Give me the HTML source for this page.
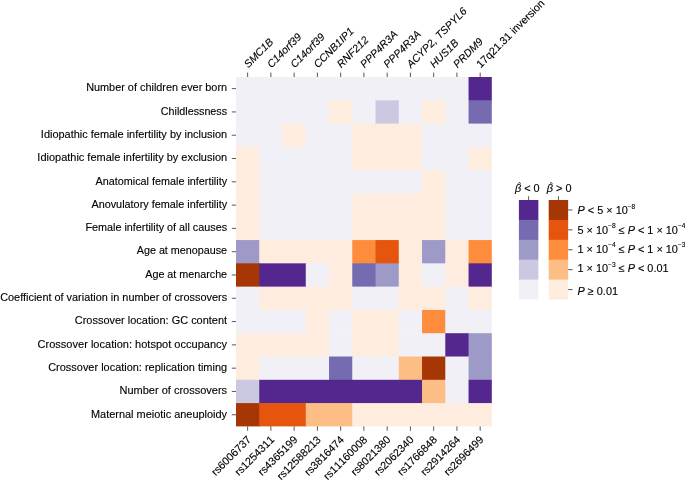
<!DOCTYPE html>
<html><head><meta charset="utf-8"><title>Heatmap</title>
<style>html,body{margin:0;padding:0;background:#fff}svg{display:block}text{font-family:"Liberation Sans",Arial,Helvetica,sans-serif;fill:#000;stroke:#000;stroke-width:0.12px}</style></head><body>
<svg width="685" height="480" viewBox="0 0 685 480">
<rect width="685" height="480" fill="#fff"/>
<g>
<rect x="236.00" y="77.00" width="233.25" height="23.99" fill="#f2f0f7"/>
<rect x="468.55" y="77.00" width="23.25" height="23.99" fill="#54278f"/>
<rect x="236.00" y="100.29" width="93.72" height="23.99" fill="#f2f0f7"/>
<rect x="329.02" y="100.29" width="23.95" height="23.99" fill="#feedde"/>
<rect x="352.27" y="100.29" width="23.95" height="23.99" fill="#f2f0f7"/>
<rect x="375.53" y="100.29" width="23.95" height="23.99" fill="#cbc9e2"/>
<rect x="398.78" y="100.29" width="23.95" height="23.99" fill="#f2f0f7"/>
<rect x="422.04" y="100.29" width="23.95" height="23.99" fill="#feedde"/>
<rect x="445.29" y="100.29" width="23.95" height="23.99" fill="#f2f0f7"/>
<rect x="468.55" y="100.29" width="23.25" height="23.99" fill="#756bb1"/>
<rect x="236.00" y="123.59" width="47.21" height="23.99" fill="#f2f0f7"/>
<rect x="282.51" y="123.59" width="23.95" height="23.99" fill="#feedde"/>
<rect x="305.76" y="123.59" width="47.21" height="23.99" fill="#f2f0f7"/>
<rect x="352.27" y="123.59" width="70.46" height="23.99" fill="#feedde"/>
<rect x="422.04" y="123.59" width="69.76" height="23.99" fill="#f2f0f7"/>
<rect x="236.00" y="146.88" width="23.95" height="23.99" fill="#feedde"/>
<rect x="259.25" y="146.88" width="93.72" height="23.99" fill="#f2f0f7"/>
<rect x="352.27" y="146.88" width="70.46" height="23.99" fill="#feedde"/>
<rect x="422.04" y="146.88" width="47.21" height="23.99" fill="#f2f0f7"/>
<rect x="468.55" y="146.88" width="23.25" height="23.99" fill="#feedde"/>
<rect x="236.00" y="170.17" width="23.95" height="23.99" fill="#feedde"/>
<rect x="259.25" y="170.17" width="163.48" height="23.99" fill="#f2f0f7"/>
<rect x="422.04" y="170.17" width="23.95" height="23.99" fill="#feedde"/>
<rect x="445.29" y="170.17" width="46.51" height="23.99" fill="#f2f0f7"/>
<rect x="236.00" y="193.47" width="23.95" height="23.99" fill="#feedde"/>
<rect x="259.25" y="193.47" width="93.72" height="23.99" fill="#f2f0f7"/>
<rect x="352.27" y="193.47" width="93.72" height="23.99" fill="#feedde"/>
<rect x="445.29" y="193.47" width="46.51" height="23.99" fill="#f2f0f7"/>
<rect x="236.00" y="216.76" width="23.95" height="23.99" fill="#feedde"/>
<rect x="259.25" y="216.76" width="93.72" height="23.99" fill="#f2f0f7"/>
<rect x="352.27" y="216.76" width="93.72" height="23.99" fill="#feedde"/>
<rect x="445.29" y="216.76" width="46.51" height="23.99" fill="#f2f0f7"/>
<rect x="236.00" y="240.05" width="23.95" height="23.99" fill="#9e9ac8"/>
<rect x="259.25" y="240.05" width="93.72" height="23.99" fill="#feedde"/>
<rect x="352.27" y="240.05" width="23.95" height="23.99" fill="#fd8d3c"/>
<rect x="375.53" y="240.05" width="23.95" height="23.99" fill="#e6550d"/>
<rect x="398.78" y="240.05" width="23.95" height="23.99" fill="#feedde"/>
<rect x="422.04" y="240.05" width="23.95" height="23.99" fill="#9e9ac8"/>
<rect x="445.29" y="240.05" width="23.95" height="23.99" fill="#feedde"/>
<rect x="468.55" y="240.05" width="23.25" height="23.99" fill="#fd8d3c"/>
<rect x="236.00" y="263.34" width="23.95" height="23.99" fill="#a63603"/>
<rect x="259.25" y="263.34" width="47.21" height="23.99" fill="#54278f"/>
<rect x="305.76" y="263.34" width="23.95" height="23.99" fill="#f2f0f7"/>
<rect x="329.02" y="263.34" width="23.95" height="23.99" fill="#feedde"/>
<rect x="352.27" y="263.34" width="23.95" height="23.99" fill="#756bb1"/>
<rect x="375.53" y="263.34" width="23.95" height="23.99" fill="#9e9ac8"/>
<rect x="398.78" y="263.34" width="23.95" height="23.99" fill="#feedde"/>
<rect x="422.04" y="263.34" width="23.95" height="23.99" fill="#f2f0f7"/>
<rect x="445.29" y="263.34" width="23.95" height="23.99" fill="#feedde"/>
<rect x="468.55" y="263.34" width="23.25" height="23.99" fill="#54278f"/>
<rect x="236.00" y="286.64" width="23.95" height="23.99" fill="#f2f0f7"/>
<rect x="259.25" y="286.64" width="93.72" height="23.99" fill="#feedde"/>
<rect x="352.27" y="286.64" width="47.21" height="23.99" fill="#f2f0f7"/>
<rect x="398.78" y="286.64" width="47.21" height="23.99" fill="#feedde"/>
<rect x="445.29" y="286.64" width="23.95" height="23.99" fill="#f2f0f7"/>
<rect x="468.55" y="286.64" width="23.25" height="23.99" fill="#feedde"/>
<rect x="236.00" y="309.93" width="70.46" height="23.99" fill="#f2f0f7"/>
<rect x="305.76" y="309.93" width="23.95" height="23.99" fill="#feedde"/>
<rect x="329.02" y="309.93" width="23.95" height="23.99" fill="#f2f0f7"/>
<rect x="352.27" y="309.93" width="47.21" height="23.99" fill="#feedde"/>
<rect x="398.78" y="309.93" width="23.95" height="23.99" fill="#f2f0f7"/>
<rect x="422.04" y="309.93" width="23.95" height="23.99" fill="#fd8d3c"/>
<rect x="445.29" y="309.93" width="46.51" height="23.99" fill="#f2f0f7"/>
<rect x="236.00" y="333.22" width="93.72" height="23.99" fill="#feedde"/>
<rect x="329.02" y="333.22" width="23.95" height="23.99" fill="#f2f0f7"/>
<rect x="352.27" y="333.22" width="47.21" height="23.99" fill="#feedde"/>
<rect x="398.78" y="333.22" width="47.21" height="23.99" fill="#f2f0f7"/>
<rect x="445.29" y="333.22" width="23.95" height="23.99" fill="#54278f"/>
<rect x="468.55" y="333.22" width="23.25" height="23.99" fill="#9e9ac8"/>
<rect x="236.00" y="356.52" width="23.95" height="23.99" fill="#feedde"/>
<rect x="259.25" y="356.52" width="70.46" height="23.99" fill="#f2f0f7"/>
<rect x="329.02" y="356.52" width="23.95" height="23.99" fill="#756bb1"/>
<rect x="352.27" y="356.52" width="47.21" height="23.99" fill="#f2f0f7"/>
<rect x="398.78" y="356.52" width="23.95" height="23.99" fill="#fdbe85"/>
<rect x="422.04" y="356.52" width="23.95" height="23.99" fill="#a63603"/>
<rect x="445.29" y="356.52" width="23.95" height="23.99" fill="#f2f0f7"/>
<rect x="468.55" y="356.52" width="23.25" height="23.99" fill="#9e9ac8"/>
<rect x="236.00" y="379.81" width="23.95" height="23.99" fill="#cbc9e2"/>
<rect x="259.25" y="379.81" width="163.48" height="23.99" fill="#54278f"/>
<rect x="422.04" y="379.81" width="23.95" height="23.99" fill="#fdbe85"/>
<rect x="445.29" y="379.81" width="23.95" height="23.99" fill="#f2f0f7"/>
<rect x="468.55" y="379.81" width="23.25" height="23.99" fill="#54278f"/>
<rect x="236.00" y="403.10" width="23.95" height="23.29" fill="#a63603"/>
<rect x="259.25" y="403.10" width="47.21" height="23.29" fill="#e6550d"/>
<rect x="305.76" y="403.10" width="47.21" height="23.29" fill="#fdbe85"/>
<rect x="352.27" y="403.10" width="139.53" height="23.29" fill="#feedde"/>
</g>
<g stroke="#222" stroke-width="0.75" fill="none">
<line x1="231.80" y1="88.65" x2="236.00" y2="88.65"/>
<line x1="231.80" y1="111.94" x2="236.00" y2="111.94"/>
<line x1="231.80" y1="135.23" x2="236.00" y2="135.23"/>
<line x1="231.80" y1="158.53" x2="236.00" y2="158.53"/>
<line x1="231.80" y1="181.82" x2="236.00" y2="181.82"/>
<line x1="231.80" y1="205.11" x2="236.00" y2="205.11"/>
<line x1="231.80" y1="228.40" x2="236.00" y2="228.40"/>
<line x1="231.80" y1="251.70" x2="236.00" y2="251.70"/>
<line x1="231.80" y1="274.99" x2="236.00" y2="274.99"/>
<line x1="231.80" y1="298.28" x2="236.00" y2="298.28"/>
<line x1="231.80" y1="321.58" x2="236.00" y2="321.58"/>
<line x1="231.80" y1="344.87" x2="236.00" y2="344.87"/>
<line x1="231.80" y1="368.16" x2="236.00" y2="368.16"/>
<line x1="231.80" y1="391.46" x2="236.00" y2="391.46"/>
<line x1="231.80" y1="414.75" x2="236.00" y2="414.75"/>
<line x1="247.63" y1="72.60" x2="247.63" y2="77.00"/>
<line x1="247.63" y1="426.39" x2="247.63" y2="430.79"/>
<line x1="270.88" y1="72.60" x2="270.88" y2="77.00"/>
<line x1="270.88" y1="426.39" x2="270.88" y2="430.79"/>
<line x1="294.14" y1="72.60" x2="294.14" y2="77.00"/>
<line x1="294.14" y1="426.39" x2="294.14" y2="430.79"/>
<line x1="317.39" y1="72.60" x2="317.39" y2="77.00"/>
<line x1="317.39" y1="426.39" x2="317.39" y2="430.79"/>
<line x1="340.65" y1="72.60" x2="340.65" y2="77.00"/>
<line x1="340.65" y1="426.39" x2="340.65" y2="430.79"/>
<line x1="363.90" y1="72.60" x2="363.90" y2="77.00"/>
<line x1="363.90" y1="426.39" x2="363.90" y2="430.79"/>
<line x1="387.16" y1="72.60" x2="387.16" y2="77.00"/>
<line x1="387.16" y1="426.39" x2="387.16" y2="430.79"/>
<line x1="410.41" y1="72.60" x2="410.41" y2="77.00"/>
<line x1="410.41" y1="426.39" x2="410.41" y2="430.79"/>
<line x1="433.67" y1="72.60" x2="433.67" y2="77.00"/>
<line x1="433.67" y1="426.39" x2="433.67" y2="430.79"/>
<line x1="456.92" y1="72.60" x2="456.92" y2="77.00"/>
<line x1="456.92" y1="426.39" x2="456.92" y2="430.79"/>
<line x1="480.18" y1="72.60" x2="480.18" y2="77.00"/>
<line x1="480.18" y1="426.39" x2="480.18" y2="430.79"/>
</g>
<g font-size="10.9" text-anchor="end">
<text x="227.1" y="91.40" textLength="140.95" lengthAdjust="spacingAndGlyphs">Number of children ever born</text>
<text x="227.1" y="114.69" textLength="66.30" lengthAdjust="spacingAndGlyphs">Childlessness</text>
<text x="227.1" y="137.98" textLength="186.23" lengthAdjust="spacingAndGlyphs">Idiopathic female infertility by inclusion</text>
<text x="227.1" y="161.28" textLength="189.77" lengthAdjust="spacingAndGlyphs">Idiopathic female infertility by exclusion</text>
<text x="227.1" y="184.57" textLength="131.56" lengthAdjust="spacingAndGlyphs">Anatomical female infertility</text>
<text x="227.1" y="207.86" textLength="135.70" lengthAdjust="spacingAndGlyphs">Anovulatory female infertility</text>
<text x="227.1" y="231.15" textLength="141.66" lengthAdjust="spacingAndGlyphs">Female infertility of all causes</text>
<text x="227.1" y="254.45" textLength="90.34" lengthAdjust="spacingAndGlyphs">Age at menopause</text>
<text x="227.1" y="277.74" textLength="81.85" lengthAdjust="spacingAndGlyphs">Age at menarche</text>
<text x="227.1" y="301.03" textLength="226.90" lengthAdjust="spacingAndGlyphs">Coefficient of variation in number of crossovers</text>
<text x="227.1" y="324.33" textLength="152.33" lengthAdjust="spacingAndGlyphs">Crossover location: GC content</text>
<text x="227.1" y="347.62" textLength="189.56" lengthAdjust="spacingAndGlyphs">Crossover location: hotspot occupancy</text>
<text x="227.1" y="370.91" textLength="178.87" lengthAdjust="spacingAndGlyphs">Crossover location: replication timing</text>
<text x="227.1" y="394.21" textLength="107.63" lengthAdjust="spacingAndGlyphs">Number of crossovers</text>
<text x="227.1" y="417.50" textLength="136.11" lengthAdjust="spacingAndGlyphs">Maternal meiotic aneuploidy</text>
</g>
<g font-size="10.6" font-style="italic">
<text transform="translate(248.13,68.50) rotate(-45)">SMC1B</text>
<text transform="translate(271.38,68.50) rotate(-45)">C14orf39</text>
<text transform="translate(294.64,68.50) rotate(-45)">C14orf39</text>
<text transform="translate(317.89,68.50) rotate(-45)">CCNB1IP1</text>
<text transform="translate(341.15,68.50) rotate(-45)">RNF212</text>
<text transform="translate(364.40,68.50) rotate(-45)">PPP4R3A</text>
<text transform="translate(387.66,68.50) rotate(-45)">PPP4R3A</text>
<text transform="translate(410.91,68.50) rotate(-45)">ACYP2, TSPYL6</text>
<text transform="translate(434.17,68.50) rotate(-45)">HUS1B</text>
<text transform="translate(457.42,68.50) rotate(-45)">PRDM9</text>
<text transform="translate(480.68,68.50) rotate(-45)" font-style="normal" font-size="10.8">17q21.31 inversion</text>
</g>
<g font-size="10.75" text-anchor="end" style="font-kerning:none">
<text transform="translate(251.63,440.39) rotate(-45)">rs6006737</text>
<text transform="translate(274.88,440.39) rotate(-45)">rs1254311</text>
<text transform="translate(298.14,440.39) rotate(-45)">rs4365199</text>
<text transform="translate(321.39,440.39) rotate(-45)">rs12588213</text>
<text transform="translate(344.65,440.39) rotate(-45)">rs3816474</text>
<text transform="translate(367.90,440.39) rotate(-45)">rs11160008</text>
<text transform="translate(391.16,440.39) rotate(-45)">rs8021380</text>
<text transform="translate(414.41,440.39) rotate(-45)">rs2062340</text>
<text transform="translate(437.67,440.39) rotate(-45)">rs1766848</text>
<text transform="translate(460.92,440.39) rotate(-45)">rs2914264</text>
<text transform="translate(484.18,440.39) rotate(-45)">rs2696499</text>
</g>
<g>
<rect x="518.9" y="200.00" width="19.45" height="20.60" fill="#54278f"/>
<rect x="548.7" y="200.00" width="19.45" height="20.60" fill="#a63603"/>
<rect x="518.9" y="219.90" width="19.45" height="20.60" fill="#756bb1"/>
<rect x="548.7" y="219.90" width="19.45" height="20.60" fill="#e6550d"/>
<rect x="518.9" y="239.80" width="19.45" height="20.60" fill="#9e9ac8"/>
<rect x="548.7" y="239.80" width="19.45" height="20.60" fill="#fd8d3c"/>
<rect x="518.9" y="259.70" width="19.45" height="20.60" fill="#cbc9e2"/>
<rect x="548.7" y="259.70" width="19.45" height="20.60" fill="#fdbe85"/>
<rect x="518.9" y="279.60" width="19.45" height="19.90" fill="#f2f0f7"/>
<rect x="548.7" y="279.60" width="19.45" height="19.90" fill="#feedde"/>
</g>
<g stroke="#222" stroke-width="0.75" fill="none">
<line x1="528.62" y1="196.20" x2="528.62" y2="200.00"/>
<line x1="558.43" y1="196.20" x2="558.43" y2="200.00"/>
<line x1="568.15" y1="209.95" x2="572.55" y2="209.95"/>
<line x1="568.15" y1="229.85" x2="572.55" y2="229.85"/>
<line x1="568.15" y1="249.75" x2="572.55" y2="249.75"/>
<line x1="568.15" y1="269.65" x2="572.55" y2="269.65"/>
<line x1="568.15" y1="289.55" x2="572.55" y2="289.55"/>
</g>
<g font-size="10.9">
<text x="577.5" y="213.80"><tspan font-style="italic">P</tspan> &lt; 5 × 10<tspan dy="-5.2" font-size="6.6">−8</tspan></text>
<text x="577.5" y="233.50">5 × 10<tspan dy="-5.2" font-size="6.6">−8</tspan><tspan dy="5.2"> ≤ </tspan><tspan font-style="italic">P</tspan> &lt; 1 × 10<tspan dy="-5.2" font-size="6.6">−4</tspan></text>
<text x="577.5" y="252.60">1 × 10<tspan dy="-5.2" font-size="6.6">−4</tspan><tspan dy="5.2"> ≤ </tspan><tspan font-style="italic">P</tspan> &lt; 1 × 10<tspan dy="-5.2" font-size="6.6">−3</tspan></text>
<text x="577.5" y="272.30">1 × 10<tspan dy="-5.2" font-size="6.6">−3</tspan><tspan dy="5.2"> ≤ </tspan><tspan font-style="italic">P</tspan> &lt; 0.01</text>
<text x="577.5" y="294.70"><tspan font-style="italic">P</tspan> ≥ 0.01</text>
<text x="514.90" y="192.3"><tspan font-style="italic">β</tspan> &lt; 0</text>
<text x="518.20" y="185.6" font-size="5.4">^</text>
<text x="546.80" y="192.3"><tspan font-style="italic">β</tspan> &gt; 0</text>
<text x="550.10" y="185.6" font-size="5.4">^</text>
</g>
</svg></body></html>
